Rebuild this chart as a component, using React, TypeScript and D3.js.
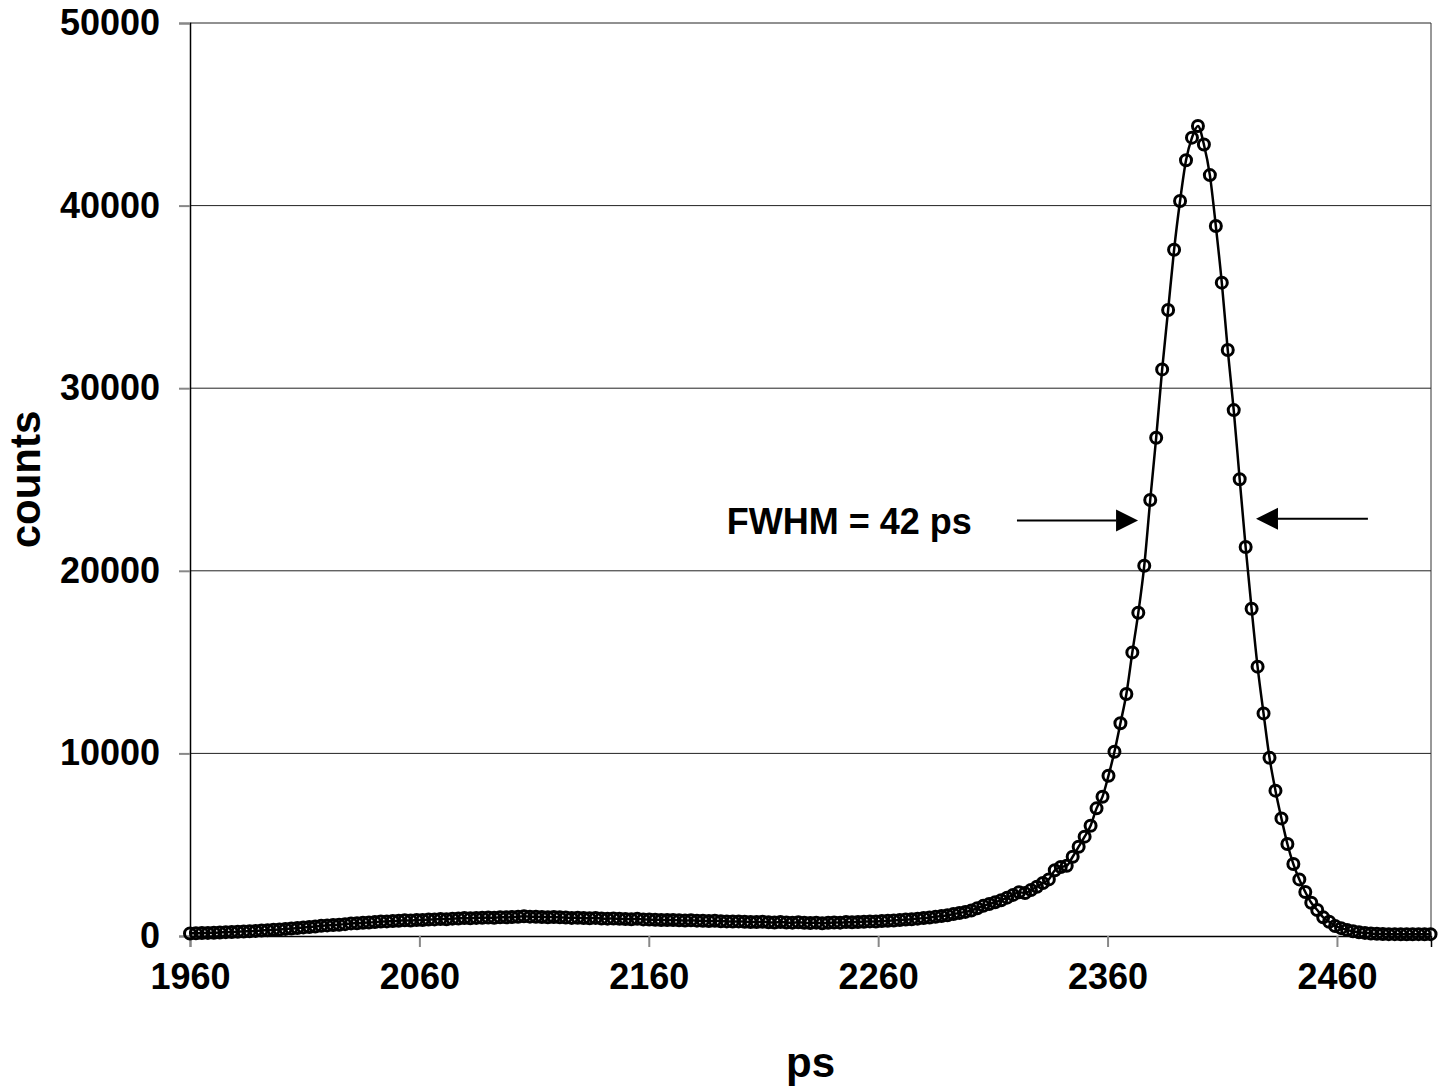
import * as d3 from 'd3';
import React, { useEffect, useRef } from 'react';

// time axis: bins of 2.6 ps starting at 1960 ps
const startPs = 1960;
const binPs = 2.6;

// counts per bin
const counts = [
  140, 150, 160, 170, 180, 190, 210, 220, 230, 250,
  260, 280, 300, 320, 340, 360, 390, 410, 440, 470,
  490, 520, 560, 580, 600, 620, 650, 690, 700, 720,
  740, 760, 790, 800, 820, 830, 860, 850, 870, 880,
  900, 910, 930, 920, 950, 960, 980, 970, 990, 1000,
  1010, 1000, 1030, 1020, 1040, 1050, 1080, 1060, 1050, 1040,
  1030, 1040, 1020, 1010, 990, 1000, 980, 970, 990, 960,
  950, 960, 940, 930, 920, 940, 910, 900, 890, 880,
  870, 880, 860, 850, 860, 840, 830, 820, 830, 810,
  800, 790, 800, 780, 770, 760, 780, 750, 740, 760,
  740, 730, 750, 720, 710, 730, 700, 720, 740, 730,
  760, 750, 770, 780, 800, 790, 820, 830, 850, 870,
  900, 920, 950, 980, 1010, 1050, 1090, 1140, 1200, 1260,
  1320, 1400, 1520, 1650, 1750, 1850, 1960, 2100, 2250, 2400,
  2350, 2520, 2700, 2900, 3100, 3600, 3780, 3850, 4340, 4890,
  5440, 6040, 6990, 7630, 8780, 10090, 11650, 13250, 15530, 17700,
  20280, 23880, 27290, 31030, 34280, 37580, 40250, 42480, 43720, 44360,
  43350, 41670, 38880, 35780, 32090, 28800, 25010, 21300, 17920, 14750,
  12190, 9760, 7960, 6440, 5040, 3940, 3100, 2410, 1820, 1420,
  1020, 780, 550, 430, 330, 260, 200, 170, 140, 120,
  110, 100, 100, 90, 90, 90, 100, 90, 100,
];

const xTicks = [1960, 2060, 2160, 2260, 2360, 2460];
const yTicks = [0, 10000, 20000, 30000, 40000, 50000];

// FWHM annotation, in data units
const fwhmLabel = 'FWHM = 42 ps';
const fwhmText = { ps: 2194, counts: 22700 };
const leftArrow = { from: 2320.5, to: 2373.3, counts: 22750 };
const rightArrow = { from: 2473.5, to: 2424.7, counts: 22850 };

const width = 1449;
const height = 1087;
const margin = { top: 23, right: 18, bottom: 151, left: 190 };
const font = "'Liberation Sans', Arial, Helvetica, sans-serif";

const App = () => {
  const ref = useRef(null);

  useEffect(() => {
    const svg = d3.select(ref.current);
    svg.selectAll('*').remove();

    const data = counts.map((c, i) => ({ ps: startPs + binPs * i, c }));

    const x = d3
      .scaleLinear()
      .domain([1960, 2501])
      .range([margin.left, width - margin.right]);
    const y = d3
      .scaleLinear()
      .domain([0, 50000])
      .range([height - margin.bottom, margin.top]);

    // gridlines
    svg
      .append('g')
      .selectAll('line')
      .data(yTicks.filter(d => d > 0))
      .enter()
      .append('line')
      .attr('x1', x.range()[0])
      .attr('x2', x.range()[1])
      .attr('y1', d => y(d))
      .attr('y2', d => y(d))
      .attr('stroke', '#222')
      .attr('stroke-width', 1);

    // right border of plot area
    svg
      .append('line')
      .attr('x1', x.range()[1])
      .attr('x2', x.range()[1])
      .attr('y1', y(50000))
      .attr('y2', y(0))
      .attr('stroke', '#333')
      .attr('stroke-width', 1);

    // x axis
    const xAxis = svg
      .append('g')
      .attr('transform', 'translate(0,' + y(0) + ')')
      .call(
        d3
          .axisBottom(x)
          .tickValues(xTicks)
          .tickSize(11)
          .tickPadding(16)
          .tickFormat(d3.format('d'))
      );
    xAxis.select('.domain').attr('stroke', '#000').attr('stroke-width', 1.5);
    xAxis.selectAll('.tick line').attr('stroke', '#888').attr('stroke-width', 2);
    xAxis
      .selectAll('.tick text')
      .attr('font-family', font)
      .attr('font-weight', 'bold')
      .attr('font-size', 36)
      .attr('fill', '#000');

    // y axis
    const yAxis = svg
      .append('g')
      .attr('transform', 'translate(' + x(1960) + ',0)')
      .call(
        d3
          .axisLeft(y)
          .tickValues(yTicks)
          .tickSize(11)
          .tickPadding(19)
          .tickFormat(d3.format('d'))
      );
    yAxis.select('.domain').attr('stroke', '#000').attr('stroke-width', 1.5);
    yAxis.selectAll('.tick line').attr('stroke', '#888').attr('stroke-width', 2);
    yAxis
      .selectAll('.tick text')
      .attr('font-family', font)
      .attr('font-weight', 'bold')
      .attr('font-size', 36)
      .attr('fill', '#000');

    // curve + markers
    const line = d3
      .line()
      .x(d => x(d.ps))
      .y(d => y(d.c))
      .curve(d3.curveMonotoneX);

    svg
      .append('path')
      .datum(data)
      .attr('d', line)
      .attr('fill', 'none')
      .attr('stroke', '#000')
      .attr('stroke-width', 2.5);

    svg
      .append('g')
      .selectAll('circle')
      .data(data)
      .enter()
      .append('circle')
      .attr('cx', d => x(d.ps))
      .attr('cy', d => y(d.c))
      .attr('r', 5.5)
      .attr('fill', 'none')
      .attr('stroke', '#000')
      .attr('stroke-width', 3);

    // axis titles
    svg
      .append('text')
      .attr('x', (x.range()[0] + x.range()[1]) / 2)
      .attr('y', 1077)
      .attr('text-anchor', 'middle')
      .attr('font-family', font)
      .attr('font-weight', 'bold')
      .attr('font-size', 42)
      .text('ps');

    svg
      .append('text')
      .attr('transform', 'translate(40,' + (y(0) + y(50000)) / 2 + ') rotate(-90)')
      .attr('text-anchor', 'middle')
      .attr('font-family', font)
      .attr('font-weight', 'bold')
      .attr('font-size', 42)
      .text('counts');

    // FWHM annotation
    svg
      .append('text')
      .attr('x', x(fwhmText.ps))
      .attr('y', y(fwhmText.counts))
      .attr('dy', '0.35em')
      .attr('font-family', font)
      .attr('font-weight', 'bold')
      .attr('font-size', 36)
      .text(fwhmLabel);

    const drawArrow = a => {
      const x0 = x(a.from);
      const x1 = x(a.to);
      const yy = y(a.counts);
      const dir = x1 > x0 ? 1 : -1;
      const headLen = 22;
      const headHalf = 11;
      svg
        .append('line')
        .attr('x1', x0)
        .attr('x2', x1 - dir * headLen)
        .attr('y1', yy)
        .attr('y2', yy)
        .attr('stroke', '#000')
        .attr('stroke-width', 2);
      svg
        .append('path')
        .attr(
          'd',
          'M' + x1 + ',' + yy +
            'L' + (x1 - dir * headLen) + ',' + (yy - headHalf) +
            'L' + (x1 - dir * headLen) + ',' + (yy + headHalf) + 'Z'
        )
        .attr('fill', '#000');
    };
    drawArrow(leftArrow);
    drawArrow(rightArrow);
  }, []);

  return (
    <svg
      ref={ref}
      width={width}
      height={height}
      style={{ position: 'absolute', left: 0, top: 0, background: '#fff' }}
    />
  );
};

export default App;
